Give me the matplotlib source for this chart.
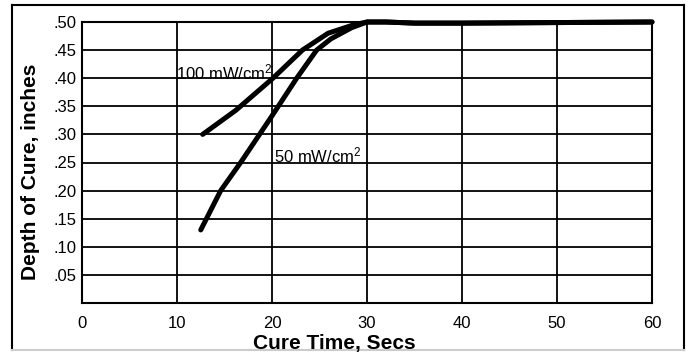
import matplotlib
matplotlib.use("Agg")
import matplotlib.pyplot as plt
from matplotlib.lines import Line2D

plt.rcParams['font.family'] = ['Liberation Sans', 'DejaVu Sans']

# Data
x_50 = [12.5, 14.6, 16.7, 20.0, 22.6, 24.7, 26.2, 28.4, 30.0, 32.0, 35.0, 40.0, 50.0, 60.0]
y_50 = [0.13, 0.20, 0.25, 0.333, 0.40, 0.45, 0.47, 0.49, 0.50, 0.500, 0.498, 0.498, 0.499, 0.50]
x_100 = [12.7, 16.2, 20.1, 23.2, 25.9, 28.6, 30.0, 32.0, 35.0, 40.0, 50.0, 60.0]
y_100 = [0.30, 0.343, 0.40, 0.45, 0.48, 0.495, 0.50, 0.500, 0.498, 0.498, 0.499, 0.50]

x_ticks = [0, 10, 20, 30, 40, 50, 60]
x_tick_labels = ["0", "10", "20", "30", "40", "50", "60"]
y_ticks = [0.05, 0.10, 0.15, 0.20, 0.25, 0.30, 0.35, 0.40, 0.45, 0.50]
y_tick_labels = [".05", ".10", ".15", ".20", ".25", ".30", ".35", ".40", ".45", ".50"]

label_100 = "100 mW/cm$^2$"
label_50 = "50 mW/cm$^2$"
x_label = "Cure Time, Secs"
y_label = "Depth of Cure, inches"

plt.rcParams['mathtext.fontset'] = 'custom'
plt.rcParams['mathtext.rm'] = 'Liberation Sans'
plt.rcParams['mathtext.it'] = 'Liberation Sans'
plt.rcParams['mathtext.default'] = 'regular'

W, H = 688, 352
fig = plt.figure(figsize=(W / 100, H / 100), dpi=100)
ax = fig.add_axes([82 / W, 1 - 303 / H, (652 - 82) / W, (303 - 22) / H])

ax.set_xlim(0, 60)
ax.set_ylim(0, 0.5)
ax.set_xticks(x_ticks)
ax.set_xticklabels(x_tick_labels)
ax.set_yticks(y_ticks)
ax.set_yticklabels(y_tick_labels)
ax.tick_params(axis='both', length=0, labelsize=12)
ax.tick_params(axis='x', pad=9)
ax.tick_params(axis='y', pad=4)
ax.grid(True, color='black', linewidth=1.3)
ax.set_axisbelow(True)
for s in ax.spines.values():
    s.set_linewidth(1.5)
    s.set_color('black')

ax.plot(x_50, y_50, color='black', linewidth=3.6, solid_capstyle='round', solid_joinstyle='round', zorder=3, clip_on=False)
ax.plot(x_100, y_100, color='black', linewidth=3.6, solid_capstyle='round', solid_joinstyle='round', zorder=3, clip_on=False)

ax.text(9.9, 0.411, label_100, fontsize=12, ha='left', va='center')
ax.text(20.2, 0.263, label_50, fontsize=12, ha='left', va='center')

fig.text(334 / W, 1 - 343 / H, x_label, fontsize=15, fontweight='bold', ha='center', va='center')
fig.text(31 / W, 1 - 172 / H, y_label, fontsize=15, fontweight='bold', ha='center', va='center', rotation=90)

# outer frame
fig.add_artist(Line2D([12 / W, 12 / W], [1 - 350 / H, 1 - 5 / H], transform=fig.transFigure, color='black', linewidth=1.5))
fig.add_artist(Line2D([12 / W, 684 / W], [1 - 5 / H, 1 - 5 / H], transform=fig.transFigure, color='black', linewidth=1.5))
fig.add_artist(Line2D([684 / W, 684 / W], [1 - 5 / H, 1 - 350 / H], transform=fig.transFigure, color='black', linewidth=1.5))
fig.add_artist(Line2D([12 / W, 684 / W], [1 - 350 / H, 1 - 350 / H], transform=fig.transFigure, color='#cccccc', linewidth=1.5))

fig.savefig("out.png", dpi=100)
